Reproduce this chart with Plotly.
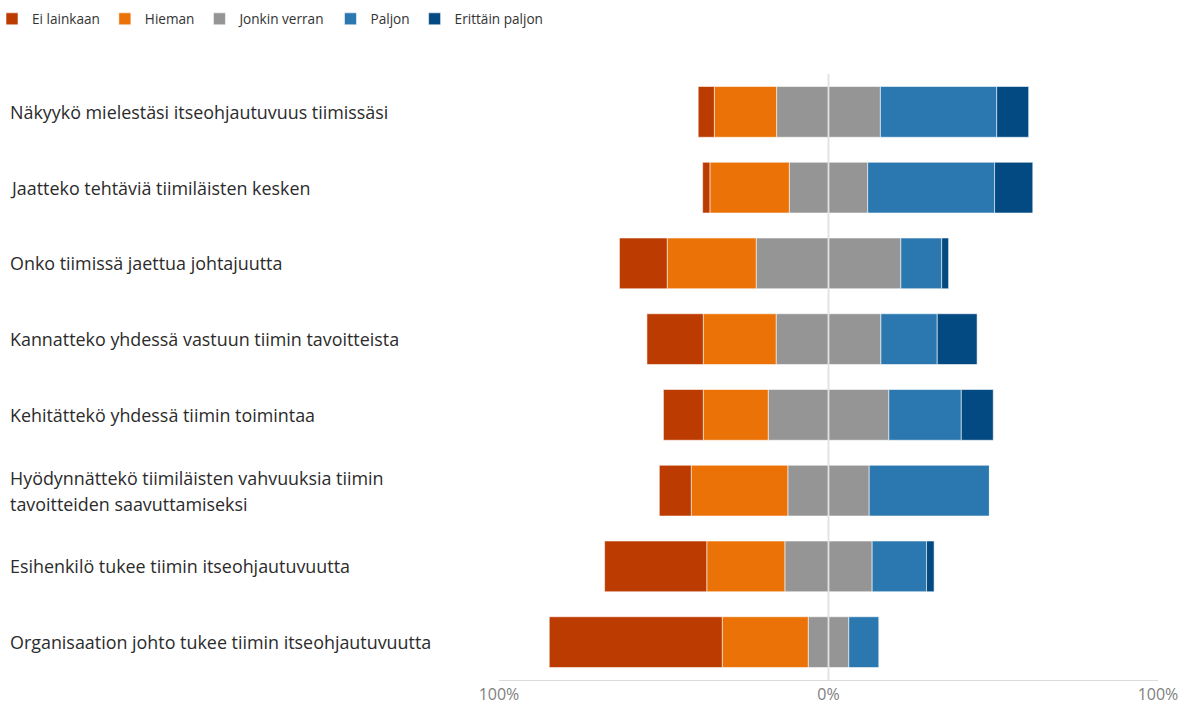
import plotly.graph_objects as go

categories = [
    "Näkyykö mielestäsi itseohjautuvuus tiimissäsi",
    "Jaatteko tehtäviä tiimiläisten kesken",
    "Onko tiimissä jaettua johtajuutta",
    "Kannatteko yhdessä vastuun tiimin tavoitteista",
    "Kehitättekö yhdessä tiimin toimintaa",
    "Hyödynnättekö tiimiläisten vahvuuksia tiimin<br>tavoitteiden saavuttamiseksi",
    "Esihenkilö tukee tiimin itseohjautuvuutta",
    "Organisaation johto tukee tiimin itseohjautuvuutta",
]
series_names = ["Ei lainkaan", "Hieman", "Jonkin verran", "Paljon", "Erittäin paljon"]
ei_lainkaan = [4.9, 2.2, 14.5, 17.1, 12.1, 9.7, 31.0, 52.5]
hieman = [18.9, 24.1, 27.0, 22.1, 19.7, 29.3, 23.7, 26.1]
jonkin_verran = [31.5, 23.8, 43.9, 31.8, 36.6, 24.7, 26.5, 12.3]
paljon = [35.3, 38.5, 12.4, 17.1, 22.0, 36.5, 16.5, 9.2]
erittain_paljon = [9.7, 11.6, 2.1, 12.1, 9.7, 0.0, 2.3, 0.0]
tick_vals = [-100, 0, 100]
tick_text = ["100%", "0%", "100%"]

colors = {
    "Ei lainkaan": "#BC3B01",
    "Hieman": "#EB7207",
    "Jonkin verran": "#959595",
    "Paljon": "#2B78B0",
    "Erittäin paljon": "#034A82",
}

W, H = 1188, 704
L, R, T, B = 499, 30, 74, 24
plot_w = W - L - R
plot_h = H - T - B

font_family = "Open Sans, Noto Sans, sans-serif"
edge = dict(color="rgba(255,255,255,0.55)", width=1)

fig = go.Figure()
half_gray = [v / 2 for v in jonkin_verran]
# negative side (stacked outward from zero in trace order)
fig.add_trace(go.Bar(y=categories, x=[-v for v in half_gray], orientation="h",
                     name="Jonkin verran", marker=dict(color=colors["Jonkin verran"], line=edge),
                     legendrank=3, showlegend=True, legendgroup="jv"))
fig.add_trace(go.Bar(y=categories, x=[-v for v in hieman], orientation="h",
                     name="Hieman", marker=dict(color=colors["Hieman"], line=edge), legendrank=2))
fig.add_trace(go.Bar(y=categories, x=[-v for v in ei_lainkaan], orientation="h",
                     name="Ei lainkaan", marker=dict(color=colors["Ei lainkaan"], line=edge), legendrank=1))
# positive side
fig.add_trace(go.Bar(y=categories, x=half_gray, orientation="h",
                     name="Jonkin verran", marker=dict(color=colors["Jonkin verran"], line=edge),
                     showlegend=False, legendgroup="jv"))
fig.add_trace(go.Bar(y=categories, x=paljon, orientation="h",
                     name="Paljon", marker=dict(color=colors["Paljon"], line=edge), legendrank=4))
fig.add_trace(go.Bar(y=categories, x=erittain_paljon, orientation="h",
                     name="Erittäin paljon", marker=dict(color=colors["Erittäin paljon"], line=edge), legendrank=5))

# category labels, left aligned
annotations = []
for cat in categories:
    lines = cat.split("<br>")
    n = len(lines)
    for i, line in enumerate(lines):
        annotations.append(dict(
            x=-(L - 9) / plot_w, xref="paper", xanchor="left",
            y=cat, yref="y", yanchor="middle",
            yshift=(n - 1) * 13 - i * 26,
            text=line, showarrow=False, borderpad=0,
            font=dict(family=font_family, size=17.9, color="#2b2b2b"),
        ))

fig.update_layout(
    width=W, height=H,
    margin=dict(l=L, r=R, t=T, b=B, pad=0, autoexpand=False),
    barmode="relative",
    bargap=0.33,
    paper_bgcolor="white",
    plot_bgcolor="white",
    font=dict(family=font_family, size=14, color="#333333"),
    showlegend=True,
    legend=dict(orientation="h", x=-(L + 8) / plot_w, xanchor="left",
                y=1 + (T - 19) / plot_h, yanchor="middle",
                font=dict(family=font_family, size=13.6, color="#333333"),
                traceorder="normal", itemclick=False, itemwidth=30),
    annotations=annotations,
    shapes=[dict(type="line", xref="x", yref="paper", x0=0, x1=0, y0=0, y1=1,
                 line=dict(color="rgba(225,225,225,0.85)", width=2), layer="above")],
)
fig.update_xaxes(
    range=[-100, 100], tickvals=tick_vals, ticktext=tick_text,
    showgrid=True, gridcolor="#e6e6e6", gridwidth=1,
    zeroline=False, showline=True, linecolor="#dcdcdc", linewidth=1,
    tickfont=dict(family=font_family, size=16, color="#808080"), ticks="",
    fixedrange=True,
)
fig.update_yaxes(
    autorange="reversed", showticklabels=False, showgrid=False, zeroline=False,
    categoryorder="array", categoryarray=categories, fixedrange=True,
)

fig.write_html("out.html")
